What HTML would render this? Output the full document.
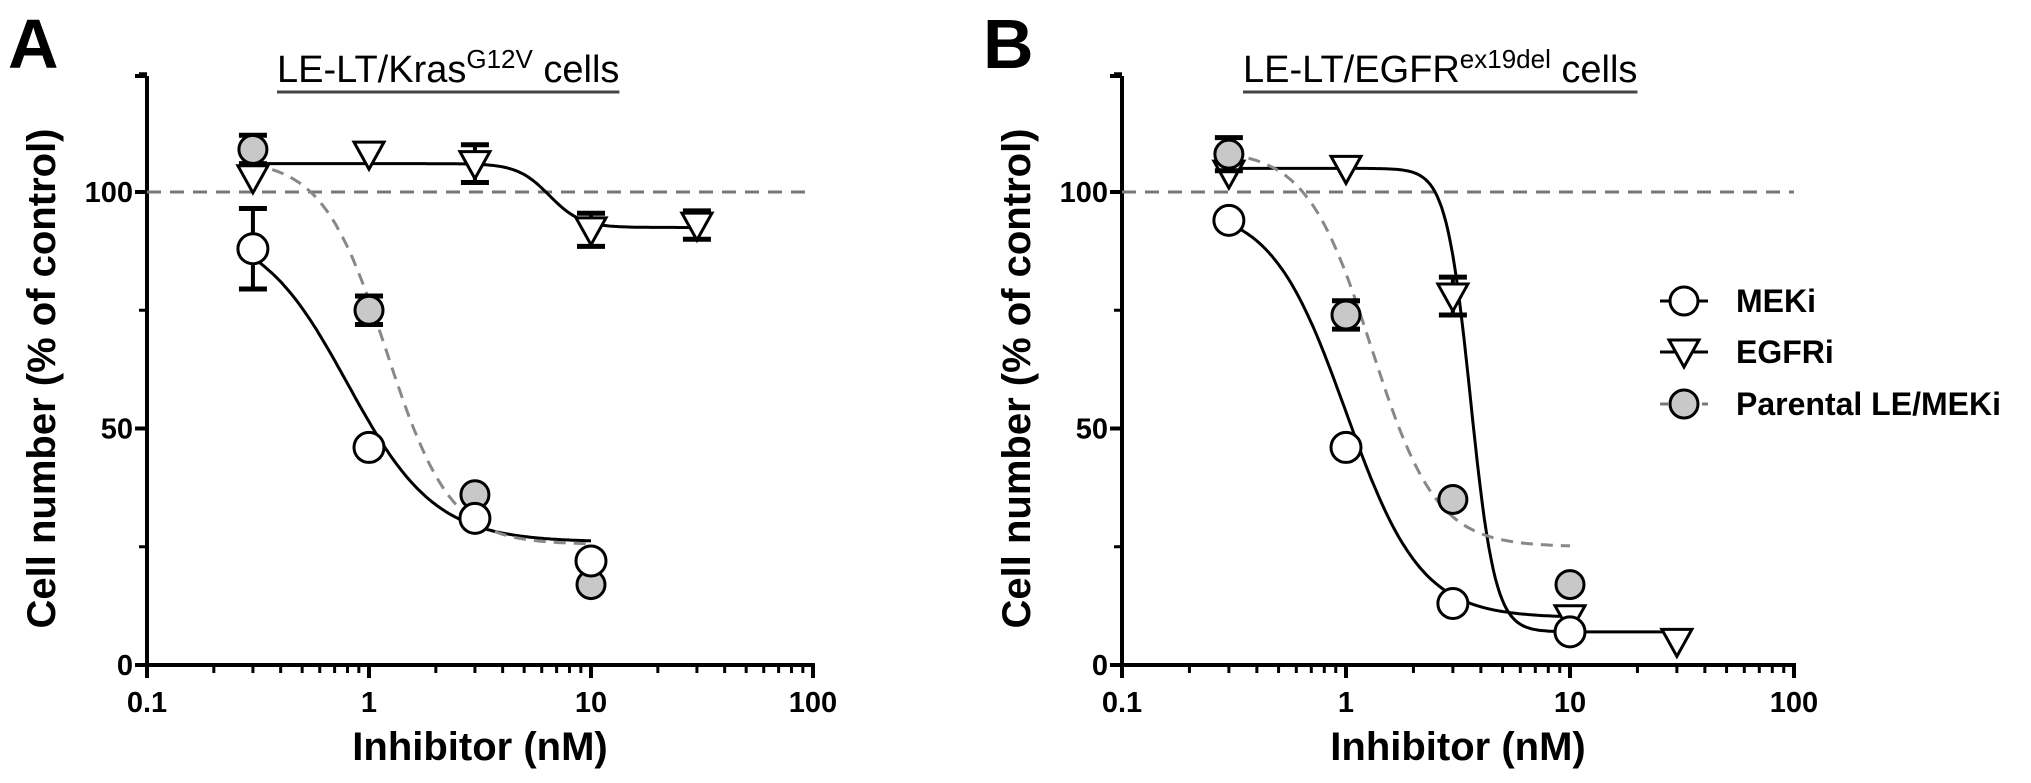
<!DOCTYPE html>
<html><head><meta charset="utf-8"><style>
body{margin:0;background:#fff}
svg{display:block}
text{font-family:"Liberation Sans",sans-serif}
</style></head><body>
<svg id="fig" width="2031" height="783" viewBox="0 0 2031 783" xmlns="http://www.w3.org/2000/svg">
<text x="8" y="68" font-size="70" font-weight="bold">A</text>
<text x="983" y="68" font-size="70" font-weight="bold">B</text>
<g id="pa"></g>
<g id="pb"></g>
</svg>
<script>
const concs = [0.3, 1, 3, 10];
const egfrConcs = [0.3, 1, 3, 10, 30];
const yTicks = [0, 50, 100];
const yTickLabels = ["0", "50", "100"];
const xTicks = [0.1, 1, 10, 100];
const xTickLabels = ["0.1", "1", "10", "100"];
// Panel A
const aMek = [88, 46, 31, 22];
const aMekErr = [8.5, 0, 0, 0];
const aPar = [109, 75, 36, 17];
const aParErr = [3, 3, 0, 0];
const aEgfr = [103, 108, 106, 92, 93];
const aEgfrErr = [0, 0, 4, 3.5, 3];
const aMekFit = [93, 26, 0.8, 2.2];
const aParFit = [107, 25.5, 1.2, 3];
const aEgfrFit = [106, 92.5, 6.5, 6];
// Panel B
const bMek = [94, 46, 13, 7];
const bMekErr = [0, 0, 0, 0];
const bPar = [108, 74, 35, 17];
const bParErr = [3.5, 3, 0, 0];
const bEgfr = [104, 105, 78, 10, 5];
const bEgfrErr = [0, 0, 4, 0, 0];
const bMekFit = [97, 10, 1.0, 2.6];
const bParFit = [109, 25, 1.3, 3];
const bEgfrFit = [105, 7, 3.6, 8];

const NS = "http://www.w3.org/2000/svg";
function mk(parent, tag, attrs){const e=document.createElementNS(NS,tag);for(const k in attrs)e.setAttribute(k,attrs[k]);parent.appendChild(e);return e;}

function panel(g, x0, dec, title, sup, tail, titleX, d){
  const y0=665, y100=192;
  const sx=v=>x0+Math.log10(v/0.1)*dec;
  const Y=v=>y0-v*(y0-y100)/100;
  const ya=mk(g,'line',{x1:x0,y1:76,x2:x0,y2:y0,stroke:'#000','stroke-width':4});
  
  
  const xa=mk(g,'line',{x1:x0-2,y1:y0,x2:sx(100)+2,y2:y0,stroke:'#000','stroke-width':4});
  
  
  mk(g,'line',{x1:x0-12,y1:76,x2:x0,y2:76,stroke:'#000','stroke-width':4});
  yTicks.forEach((t,i)=>{
    mk(g,'line',{x1:x0-12,y1:Y(t),x2:x0,y2:Y(t),stroke:'#000','stroke-width':4});
    mk(g,'line',{x1:x0-8,y1:Y(t+25),x2:x0,y2:Y(t+25),stroke:'#000','stroke-width':3});
    const tl=mk(g,'text',{x:x0-14,y:Y(t)+10,'font-size':29,'font-weight':'bold','text-anchor':'end'});
    tl.textContent=yTickLabels[i];
    
    
  });
  for(let dcd=0.1;dcd<100;dcd*=10){for(let m=2;m<=9;m++){const xx=sx(dcd*m);mk(g,'line',{x1:xx,y1:y0,x2:xx,y2:y0+8,stroke:'#000','stroke-width':3});}}
  xTicks.forEach((t,i)=>{
    mk(g,'line',{x1:sx(t),y1:y0,x2:sx(t),y2:y0+13,stroke:'#000','stroke-width':4});
    const tl=mk(g,'text',{x:sx(t),y:y0+47,'font-size':29,'font-weight':'bold','text-anchor':'middle'});
    tl.textContent=xTickLabels[i];
    
    
  });
  const xt=mk(g,'text',{x:(sx(0.1)+sx(100))/2,y:y0+95,'font-size':40,'font-weight':'bold','text-anchor':'middle'});
  xt.textContent='Inhibitor (nM)';
  
  
  const cy=(76+y0)/2+8;
  const yt=mk(g,'text',{x:0,y:0,'font-size':40,'font-weight':'bold','text-anchor':'middle',transform:`translate(${x0-92},${cy}) rotate(-90)`});
  yt.textContent='Cell number (% of control)';
  
  
  const tt=mk(g,'text',{x:titleX,y:82,'font-size':38});
  const t1=mk(tt,'tspan',{});t1.textContent=title;
  const t2=mk(tt,'tspan',{'font-size':26,dy:-14});t2.textContent=sup;
  const t3=mk(tt,'tspan',{dy:14});t3.textContent=tail;
  
  
  const bb=tt.getBBox();
  mk(g,'line',{x1:bb.x,y1:92,x2:bb.x+bb.width,y2:92,stroke:'#444','stroke-width':3});
  const ref=mk(g,'line',{x1:x0,y1:Y(100),x2:sx(100),y2:Y(100),stroke:'#777','stroke-width':3,'stroke-dasharray':'14 9'});
  
  
  function fit(p,xmax,dashed,name){
    let pts=[];for(let i=0;i<=200;i++){const lx=Math.log10(0.3)+(Math.log10(xmax)-Math.log10(0.3))*i/200;const x=Math.pow(10,lx);const v=p[1]+(p[0]-p[1])/(1+Math.pow(x/p[2],p[3]));pts.push(sx(x).toFixed(1)+','+Y(v).toFixed(1));}
    const pl=mk(g,'polyline',{points:pts.join(' '),fill:'none',stroke:dashed?'#888':'#000','stroke-width':3,'stroke-dasharray':dashed?'12 8':'none'});
    
    
  }
  fit(d.egfrFit,30,false,'egfri-fit-curve');
  fit(d.mekFit,10,false,'meki-fit-curve');
  fit(d.parFit,10,true,'parental-fit-curve');
  function err(x,v,e){if(!e)return;mk(g,'line',{x1:sx(x),y1:Y(v-e),x2:sx(x),y2:Y(v+e),stroke:'#000','stroke-width':4});[v-e,v+e].forEach(q=>mk(g,'line',{x1:sx(x)-14,y1:Y(q),x2:sx(x)+14,y2:Y(q),stroke:'#000','stroke-width':5}));}
  egfrConcs.forEach((c,i)=>{err(c,d.egfr[i],d.egfrErr[i]);
    const cx=sx(c),yy=Y(d.egfr[i]);
    const tri=mk(g,'polygon',{points:`${cx-15},${yy-12} ${cx+15},${yy-12} ${cx},${yy+15}`,fill:'#fff',stroke:'#000','stroke-width':3});
    
    });
  concs.forEach((c,i)=>{err(c,d.par[i],d.parErr[i]);
    const ci=mk(g,'circle',{cx:sx(c),cy:Y(d.par[i]),r:14,fill:'#c8c8c8',stroke:'#000','stroke-width':3});
    
    });
  concs.forEach((c,i)=>{err(c,d.mek[i],d.mekErr[i]);
    const ci=mk(g,'circle',{cx:sx(c),cy:Y(d.mek[i]),r:15,fill:'#fff',stroke:'#000','stroke-width':3});
    
    });
}
panel(document.getElementById('pa'),147,222,'LE-LT/Kras','G12V',' cells',277,
 {mek:aMek,mekErr:aMekErr,par:aPar,parErr:aParErr,egfr:aEgfr,egfrErr:aEgfrErr,mekFit:aMekFit,parFit:aParFit,egfrFit:aEgfrFit});
panel(document.getElementById('pb'),1122,224,'LE-LT/EGFR','ex19del',' cells',1243,
 {mek:bMek,mekErr:bMekErr,par:bPar,parErr:bParErr,egfr:bEgfr,egfrErr:bEgfrErr,mekFit:bMekFit,parFit:bParFit,egfrFit:bEgfrFit});
const leg=mk(document.getElementById('fig'),'g',{});


const legNames=['MEKi','EGFRi','Parental LE/MEKi'];
const legY=[301,352,404];
legNames.forEach((n,i)=>{
  const y=legY[i];
  mk(leg,'line',{x1:1660,y1:y,x2:1708,y2:y,stroke:i==2?'#777':'#000','stroke-width':3,'stroke-dasharray':i==2?'8 6':'none'});
  if(i==1){mk(leg,'polygon',{points:`1669,${y-12} 1699,${y-12} 1684,${y+15}`,fill:'#fff',stroke:'#000','stroke-width':3});}
  else{mk(leg,'circle',{cx:1684,cy:y,r:14,fill:i==2?'#c8c8c8':'#fff',stroke:'#000','stroke-width':3});}
  const t=mk(leg,'text',{x:1736,y:y+11,'font-size':32,'font-weight':'bold'});
  t.textContent=n;
  
  
});
</script>
</body></html>
